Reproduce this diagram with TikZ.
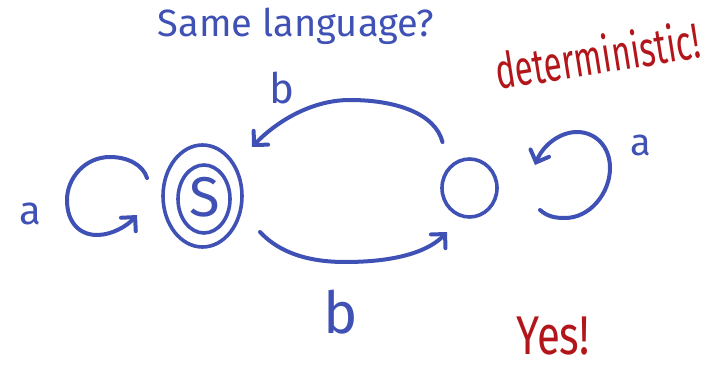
\documentclass[tikz,border=0pt]{standalone}
\usepackage{fontspec}
\setmainfont{Fira Sans}
\usetikzlibrary{arrows.meta,shapes.geometric,calc}
\definecolor{ink}{RGB}{63,81,181}
\definecolor{redink}{RGB}{178,22,26}
\tikzset{
  edge/.style={draw=ink,line width=4pt,line cap=round,line join=round},
  tip/.style={-{Straight Barb[length=10pt,width=20pt,line cap=round]}},
  state/.style={draw=ink,line width=3.6pt,inner sep=0pt},
  lbl/.style={text=ink,inner sep=0pt},
  rlbl/.style={text=redink,inner sep=0pt},
}
\begin{document}
\begin{tikzpicture}[x=1pt,y=1pt]
\useasboundingbox (0,0) rectangle (711,378);
% states
\node[state,ellipse,minimum width=79pt,minimum height=102pt] (s) at (202.5,182) {};
\node[state,ellipse,minimum width=52pt,minimum height=68pt] (sin) at (204,179) {};
\node[lbl,font=\fontsize{56}{56}\selectfont] (sl) at (205,181) {S};
\node[state,ellipse,minimum width=55pt,minimum height=58pt] (q) at (469.5,190) {};
% transitions between states
\coordinate (ua) at ($(q)+(-27,46)$);
\coordinate (ub) at ($(s)+(49.5,49)$);
\draw[edge,tip] (ua) .. controls (435,265) and (395,278) .. (350,278)
  .. controls (310,278) and (275,255) .. (ub);
\coordinate (la) at ($(s)+(57.5,-36)$);
\coordinate (lb) at ($(q)+(-22.5,-44)$);
\draw[edge,tip] (la) .. controls (275,130) and (300,116) .. (345,116)
  .. controls (400,116) and (430,128) .. (lb);
% self loops
\coordinate (sla) at ($(s)+(-55.5,18)$);
\coordinate (slb) at ($(s)+(-65.5,-19)$);
\draw[edge,tip] (sla) .. controls (143,213) and (128,221) .. (110,221)
  .. controls (85,221) and (67,200) .. (67,178)
  .. controls (67,155) and (80,143) .. (97,143)
  .. controls (112,143) and (127,152) .. (slb);
\coordinate (qla) at ($(q)+(70.5,-22)$);
\coordinate (qlb) at ($(q)+(65.5,23)$);
\draw[edge,tip] (qla) .. controls (548,161) and (556,160) .. (565,160)
  .. controls (590,160) and (610,185) .. (610,210)
  .. controls (610,232) and (595,246) .. (577,246)
  .. controls (560,246) and (543,233) .. (qlb);
% labels
\node[lbl,font=\fontsize{40}{40}\selectfont] (al) at (30,164) {a};
\node[lbl,font=\fontsize{38}{38}\selectfont] (ar) at (641,233) {a};
\node[lbl,font=\fontsize{42}{42}\selectfont] (bu) at (282,290) {b};
\node[lbl,font=\fontsize{58}{58}\selectfont] (bl) at (341,66) {b};
\node[lbl,font=\fontsize{38}{38}\selectfont] (title) at (296,352) {Same language?};
\node[rlbl,font=\fontsize{33}{33}\selectfont,rotate=9,yscale=1.5] (det) at (597,323) {deterministic!};
\node[rlbl,font=\fontsize{42}{42}\selectfont,yscale=1.3] (yes) at (553,42) {Yes!};
\end{tikzpicture}
\end{document}
